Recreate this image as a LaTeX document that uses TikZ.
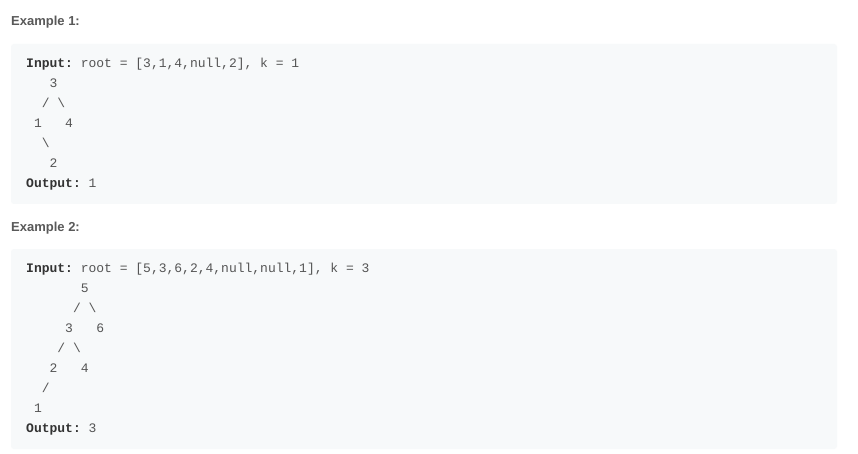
\documentclass[tikz,border=0pt]{standalone}
\usepackage{fontspec}
\setmainfont{Liberation Sans}
\setmonofont{Liberation Mono}
\definecolor{boxbg}{HTML}{F7F9FA}
\definecolor{headc}{HTML}{595959}
\definecolor{codec}{HTML}{555555}
\definecolor{boldc}{HTML}{333333}
\tikzset{
  heading/.style={anchor=base west, inner sep=0pt, font=\fontsize{13}{13}\selectfont\bfseries, text=headc},
  codeline/.style={anchor=base west, inner sep=0pt, font=\fontsize{13}{13}\selectfont\ttfamily, text=codec},
  codebox/.style={fill=boxbg, draw=none, rounded corners=3pt},
}
\newcommand{\kw}[1]{{\bfseries\color{boldc}#1}}
\begin{document}
\begin{tikzpicture}[x=1pt,y=-1pt]
\useasboundingbox[fill=white] (0,0) rectangle (858,454);
\node[heading] (h1) at (11,25.5) {Example 1:};
\path[codebox] (11,44) rectangle (837,204);
\node[codeline] (a1) at (26,67.8) {\kw{Input:} root = [3,1,4,null,2], k = 1};
\node[codeline] (a2) at (26,87.8) {\ \ \ 3};
\node[codeline] (a3) at (26,107.8) {\ \ / \textbackslash};
\node[codeline] (a4) at (26,127.8) {\ 1\ \ \ 4};
\node[codeline] (a5) at (26,147.8) {\ \ \textbackslash};
\node[codeline] (a6) at (26,167.8) {\ \ \ 2};
\node[codeline] (a7) at (26,187.8) {\kw{Output:} 1};

\node[heading] (h2) at (11,231.5) {Example 2:};
\path[codebox] (11,249) rectangle (837,449);
\node[codeline] (b1) at (26,272.5) {\kw{Input:} root = [5,3,6,2,4,null,null,1], k = 3};
\node[codeline] (b2) at (26,292.5) {\ \ \ \ \ \ \ 5};
\node[codeline] (b3) at (26,312.5) {\ \ \ \ \ \ / \textbackslash};
\node[codeline] (b4) at (26,332.5) {\ \ \ \ \ 3\ \ \ 6};
\node[codeline] (b5) at (26,352.5) {\ \ \ \ / \textbackslash};
\node[codeline] (b6) at (26,372.5) {\ \ \ 2\ \ \ 4};
\node[codeline] (b7) at (26,392.5) {\ \ /};
\node[codeline] (b8) at (26,412.5) {\ 1};
\node[codeline] (b9) at (26,432.5) {\kw{Output:} 3};
\end{tikzpicture}
\end{document}
